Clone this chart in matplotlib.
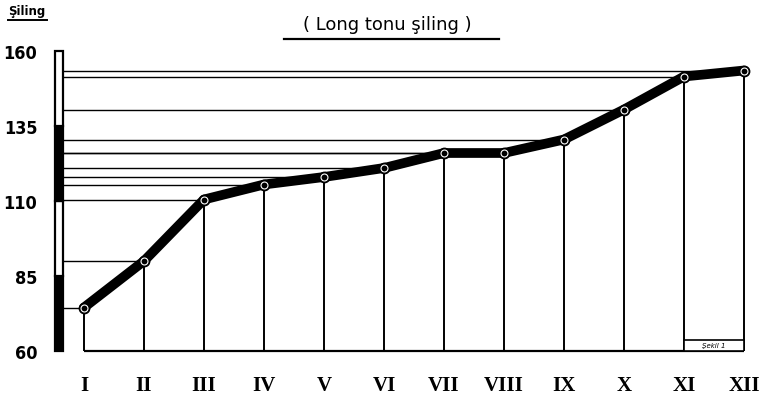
import matplotlib
matplotlib.use("Agg")
import matplotlib.pyplot as plt
from matplotlib.patches import Rectangle
from matplotlib.transforms import blended_transform_factory
from matplotlib.lines import Line2D

# ---- data ----
month_labels = ["I", "II", "III", "IV", "V", "VI", "VII", "VIII", "IX", "X", "XI", "XII"]
months = list(range(1, 13))
prices = [74.5, 90, 110.5, 115.5, 118, 121, 126, 126, 130.5, 140.5, 151.5, 153.5]
ytick_values = [60, 85, 110, 135, 160]
title_text = "( Long tonu şiling )"
unit_text = "Şiling"
note_text = "Şekil 1"

W, H = 763, 402
fig = plt.figure(figsize=(W / 100, H / 100), dpi=100)
fig.patch.set_facecolor("white")

# axes in pixel coordinates
ax_left, ax_right, ax_bottom_px, ax_top_px = 54, 762, 352, 49
ax = fig.add_axes([ax_left / W, (H - ax_bottom_px) / H,
                   (ax_right - ax_left) / W, (ax_bottom_px - ax_top_px) / H])
xlim = (0.5, 12.3)
ylim = (60, 161)
ax.set_xlim(*xlim)
ax.set_ylim(*ylim)
for s in ax.spines.values():
    s.set_visible(False)

# scale bar on the y axis (alternating black / hollow segments)
bt = blended_transform_factory(ax.transAxes, ax.transData)
bar_x0, bar_x1 = 0.0014, 0.0127
for i in range(len(ytick_values) - 1):
    lo, hi = ytick_values[i], ytick_values[i + 1]
    filled = (i % 2 == 0)
    ax.add_patch(Rectangle((bar_x0, lo), bar_x1 - bar_x0, hi - lo, transform=bt,
                           facecolor="black" if filled else "white",
                           edgecolor="black", lw=1.6, zorder=5, clip_on=False))

bar_right = xlim[0] + bar_x1 * (xlim[1] - xlim[0])

# horizontal guide lines from the axis to each point
ax.hlines(prices, bar_right, months, colors="black", lw=1.0, zorder=2)
# vertical lines from each point to the baseline
ax.vlines(months, ylim[0], prices, colors="black", lw=1.4, zorder=2)
# baseline
ax.hlines(ylim[0], months[0], months[-1], colors="black", lw=1.6, zorder=2, clip_on=False)

# main thick line
ax.plot(months, prices, color="black", lw=7, solid_capstyle="round",
        solid_joinstyle="round", zorder=4)
ax.plot(months, prices, ls="none", marker="o", ms=7.5, mfc="black", mec="black", zorder=5)
ax.plot(months, prices, ls="none", marker="o", ms=5, mfc="black", mec="white", mew=0.8, zorder=6)

# small note box between XI and XII
box_h = 3.7
ax.add_patch(Rectangle((months[-2], ylim[0]), months[-1] - months[-2], box_h,
                       facecolor="white", edgecolor="black", lw=1.2, zorder=3))
ax.text((months[-2] + months[-1]) / 2, ylim[0] + box_h / 2, note_text, fontsize=5,
        style="italic", ha="center", va="center", zorder=4)

# ticks
ax.set_yticks(ytick_values)
ax.set_yticklabels([str(v) for v in ytick_values],
                   fontdict=dict(family=["Liberation Sans Narrow", "DejaVu Sans"],
                                 weight="bold", size=13, stretch="condensed"))
ax.tick_params(axis="y", length=0, pad=12)
ax.set_xticks(months)
ax.set_xticklabels(month_labels,
                   fontdict=dict(family=["Liberation Serif", "DejaVu Serif"],
                                 weight="bold", size=15))
ax.tick_params(axis="x", length=0, pad=17)

# title and unit label
fig.text(387 / W, 1 - 25 / H, title_text, ha="center", va="center", fontsize=13,
         family="DejaVu Sans")
fig.add_artist(Line2D([284 / W, 499 / W], [1 - 40 / H, 1 - 40 / H], color="black", lw=1.6))
fig.text(27 / W, 1 - 11 / H, unit_text, ha="center", va="center", fontsize=8.5,
         weight="bold", family="DejaVu Sans")
fig.add_artist(Line2D([8 / W, 47 / W], [1 - 21 / H, 1 - 21 / H], color="black", lw=1.4))

fig.savefig("out.png", dpi=100, facecolor="white")
